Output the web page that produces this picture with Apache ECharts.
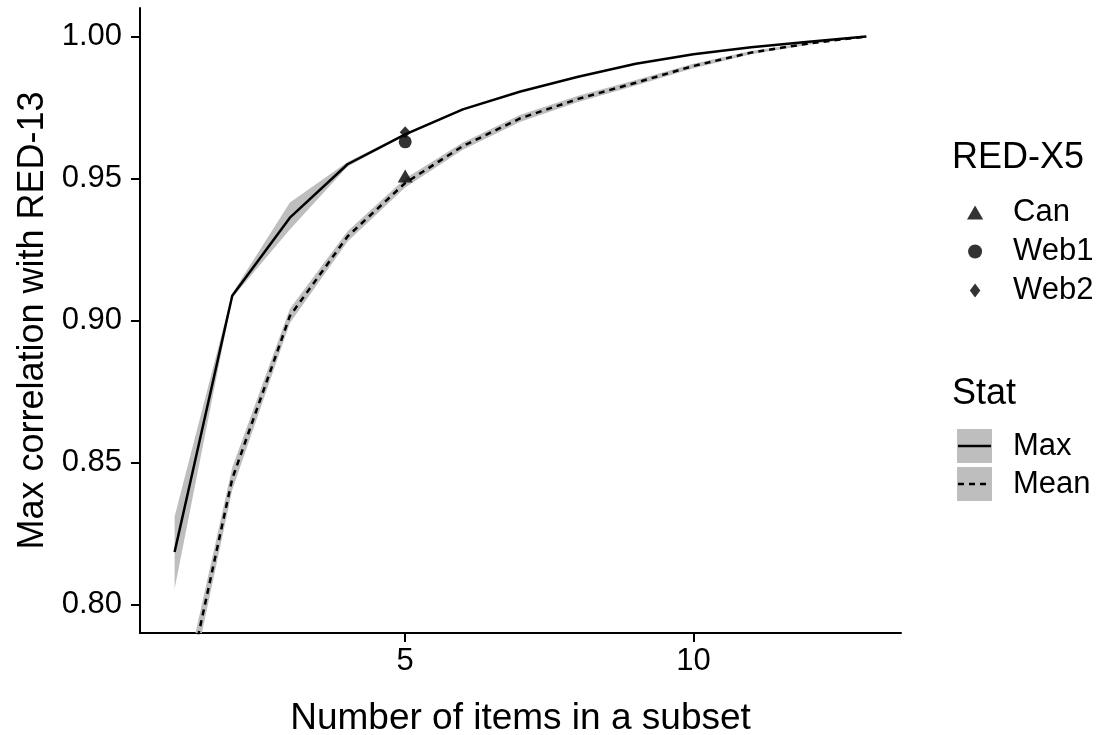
<!DOCTYPE html>
<html>
<head>
<meta charset="utf-8">
<script src="https://cdn.jsdelivr.net/npm/echarts@6/dist/echarts.min.js"></script>
<style>
  html, body { margin: 0; padding: 0; background: #fff; }
  #chart { width: 1101px; height: 735px; }
</style>
</head>
<body>
<div id="chart"></div>
<script>
// Subset size (number of items)
const xs = [1, 2, 3, 4, 5, 6, 7, 8, 9, 10, 11, 12, 13];

// Max correlation across subsets, with its band
const maxVals = [0.8185, 0.9087, 0.9362, 0.9550, 0.9655, 0.9743, 0.9806, 0.9858, 0.9904, 0.9937, 0.9962, 0.9981, 1.0000];
const maxLo   = [0.8056, 0.9080, 0.9320, 0.9542, 0.9651, 0.9740, 0.9804, 0.9856, 0.9902, 0.9936, 0.9961, 0.9980, 1.0000];
const maxHi   = [0.8310, 0.9095, 0.9415, 0.9558, 0.9659, 0.9746, 0.9808, 0.9860, 0.9906, 0.9938, 0.9963, 0.9982, 1.0000];

// Mean correlation across subsets, with its band
const meanVals = [0.7508, 0.8443, 0.9016, 0.9296, 0.9484, 0.9614, 0.9712, 0.9780, 0.9837, 0.9896, 0.9943, 0.9975, 1.0000];
const meanLo   = [0.7448, 0.8403, 0.8991, 0.9278, 0.9468, 0.9601, 0.9700, 0.9769, 0.9827, 0.9888, 0.9937, 0.9971, 1.0000];
const meanHi   = [0.7568, 0.8483, 0.9041, 0.9314, 0.9500, 0.9627, 0.9724, 0.9791, 0.9847, 0.9904, 0.9949, 0.9979, 1.0000];

// RED-X5 versions (5 items each)
const canPoint  = [5, 0.9509];
const web1Point = [5, 0.9629];
const web2Point = [5, 0.9663];

// Axis ticks
const xTicks = [5, 10];
const yTicks = [0.80, 0.85, 0.90, 0.95, 1.00];

const FONT = '"Liberation Sans", Arial, sans-serif';
const BAND = '#bebebe';

function bandSeries(lo, hi) {
  return {
    type: 'custom',
    silent: true,
    clip: true,
    z: 1,
    data: xs.map((x, i) => [x, lo[i], hi[i]]),
    encode: { x: 0, y: [1, 2] },
    renderItem: function (params, api) {
      if (params.dataIndex !== 0) return null;
      const pts = [];
      for (let i = 0; i < xs.length; i++) pts.push(api.coord([xs[i], hi[i]]));
      for (let i = xs.length - 1; i >= 0; i--) pts.push(api.coord([xs[i], lo[i]]));
      const cs = params.coordSys;
      return {
        type: 'group',
        clipPath: { type: 'rect', shape: { x: cs.x, y: cs.y, width: cs.width, height: cs.height } },
        children: [{ type: 'polygon', shape: { points: pts }, style: { fill: BAND } }]
      };
    }
  };
}

const chart = echarts.init(document.getElementById('chart'), null, { renderer: 'canvas' });

const option = {
  animation: false,
  backgroundColor: '#fff',
  textStyle: { fontFamily: FONT },
  grid: { left: 140, right: 200, top: 8, bottom: 102, containLabel: false, outerBoundsMode: 'none' },
  xAxis: {
    type: 'value',
    min: 0.4,
    max: 13.6,
    name: 'Number of items in a subset',
    nameLocation: 'middle',
    nameGap: 67,
    nameTextStyle: { fontSize: 37, color: '#000', fontFamily: FONT },
    axisLine: { show: true, onZero: false, lineStyle: { color: '#000', width: 2 } },
    axisTick: { show: true, length: 9, customValues: xTicks, lineStyle: { color: '#000', width: 2 } },
    axisLabel: { customValues: xTicks, fontSize: 31, color: '#000', margin: 13, fontFamily: FONT },
    splitLine: { show: false }
  },
  yAxis: {
    type: 'value',
    min: 0.79,
    max: 1.01,
    name: 'Max correlation with RED-13',
    nameLocation: 'middle',
    nameGap: 79,
    nameTextStyle: { fontSize: 36, color: '#000', fontFamily: FONT },
    axisLine: { show: true, onZero: false, lineStyle: { color: '#000', width: 2 } },
    axisTick: { show: true, length: 9, customValues: yTicks, lineStyle: { color: '#000', width: 2 } },
    axisLabel: {
      customValues: yTicks, fontSize: 31, color: '#000', margin: 18, fontFamily: FONT,
      formatter: v => v.toFixed(2)
    },
    splitLine: { show: false }
  },
  legend: {
    orient: 'vertical',
    left: 967,
    top: 197,
    padding: 0,
    itemWidth: 66,
    itemHeight: 14,
    itemGap: 8,
    selectedMode: false,
    textStyle: { fontSize: 31, color: '#000', fontFamily: FONT, lineHeight: 30 },
    data: [
      { name: 'Can', icon: 'path://M0,173L100,0L200,173Z' },
      { name: 'Web1', icon: 'circle' },
      { name: 'Web2', icon: 'path://M50,0L95,60L50,120L5,60Z' }
    ]
  },
  graphic: [
    { type: 'text', left: 952, top: 140, style: { text: 'RED-X5', font: '36px ' + FONT, fill: '#000' } },
    { type: 'text', left: 952, top: 376, style: { text: 'Stat', font: '36px ' + FONT, fill: '#000' } },
    { type: 'rect', shape: { x: 957, y: 429, width: 35, height: 34 }, style: { fill: BAND } },
    { type: 'line', shape: { x1: 958, y1: 446, x2: 991, y2: 446 }, style: { stroke: '#000', lineWidth: 2.5 } },
    { type: 'text', left: 1013, top: 431, style: { text: 'Max', font: '31px ' + FONT, fill: '#000' } },
    { type: 'rect', shape: { x: 957, y: 467, width: 35, height: 34 }, style: { fill: BAND } },
    { type: 'line', shape: { x1: 958, y1: 484, x2: 991, y2: 484 }, style: { stroke: '#000', lineWidth: 2.5, lineDash: [6, 5] } },
    { type: 'text', left: 1013, top: 469, style: { text: 'Mean', font: '31px ' + FONT, fill: '#000' } }
  ],
  series: [
    bandSeries(maxLo, maxHi),
    bandSeries(meanLo, meanHi),
    {
      name: 'Max', type: 'line', z: 3, symbol: 'none', silent: true, clip: true,
      data: xs.map((x, i) => [x, maxVals[i]]),
      lineStyle: { color: '#000', width: 2.5 }
    },
    {
      name: 'Mean', type: 'line', z: 3, symbol: 'none', silent: true, clip: true,
      data: xs.map((x, i) => [x, meanVals[i]]),
      lineStyle: { color: '#000', width: 2.5, type: [6, 5] }
    },
    {
      name: 'Can', type: 'scatter', z: 5, symbol: 'triangle', symbolSize: [15, 13], silent: true,
      itemStyle: { color: '#000' }, data: [canPoint]
    },
    {
      name: 'Web1', type: 'scatter', z: 5, symbol: 'circle', symbolSize: 13, silent: true,
      itemStyle: { color: '#000' }, data: [web1Point]
    },
    {
      name: 'Web2', type: 'scatter', z: 5, symbol: 'diamond', symbolSize: [11, 12], silent: true,
      itemStyle: { color: '#000' }, data: [web2Point]
    }
  ]
};

chart.setOption(option);
</script>
</body>
</html>
